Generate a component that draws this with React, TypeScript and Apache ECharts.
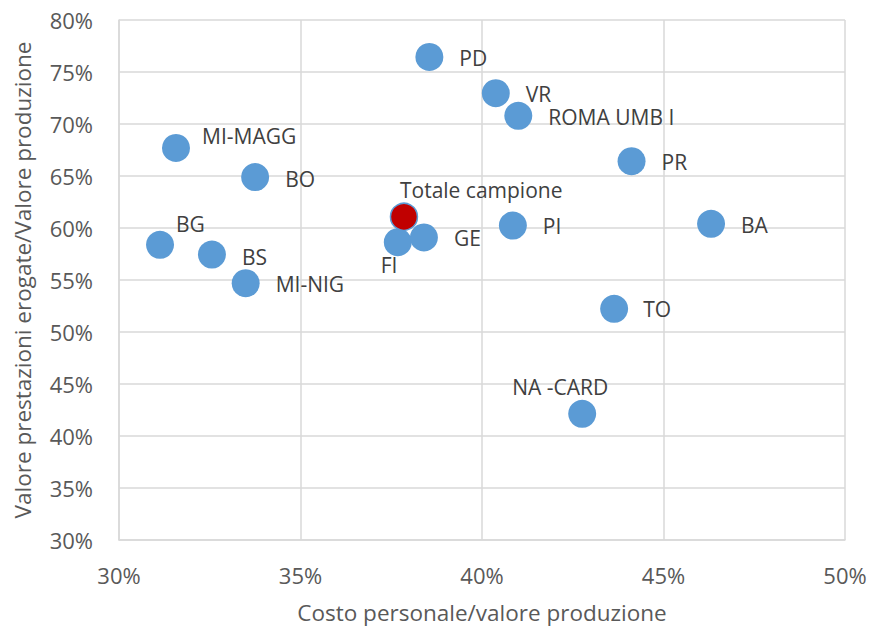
import React, { useEffect, useRef } from "react";
import * as echarts from "echarts";

// Hospital units: personnel cost share vs. share of services delivered (both % of production value)
const unitNames = [
  "PD", "VR", "ROMA UMB I", "MI-MAGG", "BO", "BG", "BS", "MI-NIG",
  "FI", "GE", "PI", "PR", "BA", "TO", "NA -CARD",
];
const costShare = [
  38.55, 40.38, 41.0, 31.57, 33.75, 31.13, 32.56, 33.49,
  37.68, 38.4, 40.85, 44.12, 46.31, 43.64, 42.76,
];
const serviceShare = [
  76.45, 72.96, 70.79, 67.7, 64.9, 58.38, 57.45, 54.69,
  58.63, 59.09, 60.24, 66.42, 60.4, 52.23, 42.13,
];

const totalName = "Totale campione";
const totalCost = 37.85;
const totalService = 61.08;

const xTicks = [30, 35, 40, 45, 50];
const yTicks = [30, 35, 40, 45, 50, 55, 60, 65, 70, 75, 80];

// label placement relative to the marker centre: [dx, dy, align]
const labelPlacement: Record<string, [number, number, string]> = {
  PD: [30, 1, "left"],
  VR: [30, 1, "left"],
  "ROMA UMB I": [30, 1, "left"],
  "MI-MAGG": [26, -12, "left"],
  BO: [30, 2, "left"],
  BG: [16, -21, "left"],
  BS: [30, 2, "left"],
  "MI-NIG": [30, 1, "left"],
  FI: [-17, 23, "left"],
  GE: [30, 1, "left"],
  PI: [30, 0, "left"],
  PR: [30, 1, "left"],
  BA: [30, 1, "left"],
  TO: [29, 0, "left"],
  "NA -CARD": [26, -27, "right"],
  [totalName]: [-4, -27, "left"],
};

const FONT = "'Open Sans', 'Noto Sans', sans-serif";
const BLUE = "#5B9BD5";
const RED = "#C00000";
const GRID = "#D9D9D9";
const AXIS_TEXT = "#595959";

function pointLabel(name: string) {
  const [dx, dy, align] = labelPlacement[name];
  return {
    show: true,
    position: "inside" as const,
    formatter: name,
    align,
    verticalAlign: "middle",
    offset: [dx, dy],
    color: "#404040",
    fontFamily: FONT,
    fontSize: 21,
  };
}

export default function App() {
  const ref = useRef<HTMLDivElement>(null);

  useEffect(() => {
    if (!ref.current) return;
    const chart = echarts.init(ref.current, undefined, { renderer: "svg" });

    const units = unitNames.map((name, i) => ({
      name,
      value: [costShare[i], serviceShare[i]],
      label: pointLabel(name),
    }));

    chart.setOption({
      animation: false,
      backgroundColor: "#ffffff",
      textStyle: { fontFamily: FONT },
      grid: {
        left: 119,
        right: 26,
        top: 20,
        bottom: 86,
        containLabel: false,
        outerBoundsMode: "none",
      },
      xAxis: {
        type: "value",
        min: xTicks[0],
        max: xTicks[xTicks.length - 1],
        interval: 5,
        name: "Costo personale/valore produzione",
        nameLocation: "middle",
        nameGap: 61,
        nameTextStyle: {
          color: AXIS_TEXT,
          fontSize: 22.5,
          lineHeight: 22,
          fontFamily: FONT,
        },
        axisLine: { show: true, lineStyle: { color: GRID, width: 1.5 } },
        axisTick: { show: false },
        axisLabel: {
          color: AXIS_TEXT,
          fontSize: 22,
          fontFamily: FONT,
          margin: 24,
          formatter: "{value}%",
        },
        splitLine: { show: true, lineStyle: { color: GRID, width: 1.5 } },
      },
      yAxis: {
        type: "value",
        min: yTicks[0],
        max: yTicks[yTicks.length - 1],
        interval: 5,
        name: "Valore prestazioni erogate/Valore produzione",
        nameLocation: "middle",
        nameGap: 85,
        nameTextStyle: { color: AXIS_TEXT, fontSize: 22.5, fontFamily: FONT },
        axisLine: { show: true, lineStyle: { color: GRID, width: 1.5 } },
        axisTick: { show: false },
        axisLabel: {
          color: AXIS_TEXT,
          fontSize: 22,
          fontFamily: FONT,
          margin: 26,
          formatter: "{value}%",
        },
        splitLine: { show: true, lineStyle: { color: GRID, width: 1.5 } },
      },
      series: [
        {
          type: "scatter",
          symbol: "circle",
          symbolSize: 28,
          itemStyle: { color: BLUE, opacity: 1 },
          data: units,
          z: 2,
        },
        {
          type: "scatter",
          symbol: "circle",
          symbolSize: 27,
          itemStyle: { color: RED, borderColor: BLUE, borderWidth: 1.5, opacity: 1 },
          data: [
            {
              name: totalName,
              value: [totalCost, totalService],
              label: pointLabel(totalName),
            },
          ],
          z: 3,
        },
      ],
    });

    return () => chart.dispose();
  }, []);

  return (
    <div
      ref={ref}
      style={{ position: "fixed", left: 0, top: 0, width: 871, height: 626 }}
    />
  );
}
